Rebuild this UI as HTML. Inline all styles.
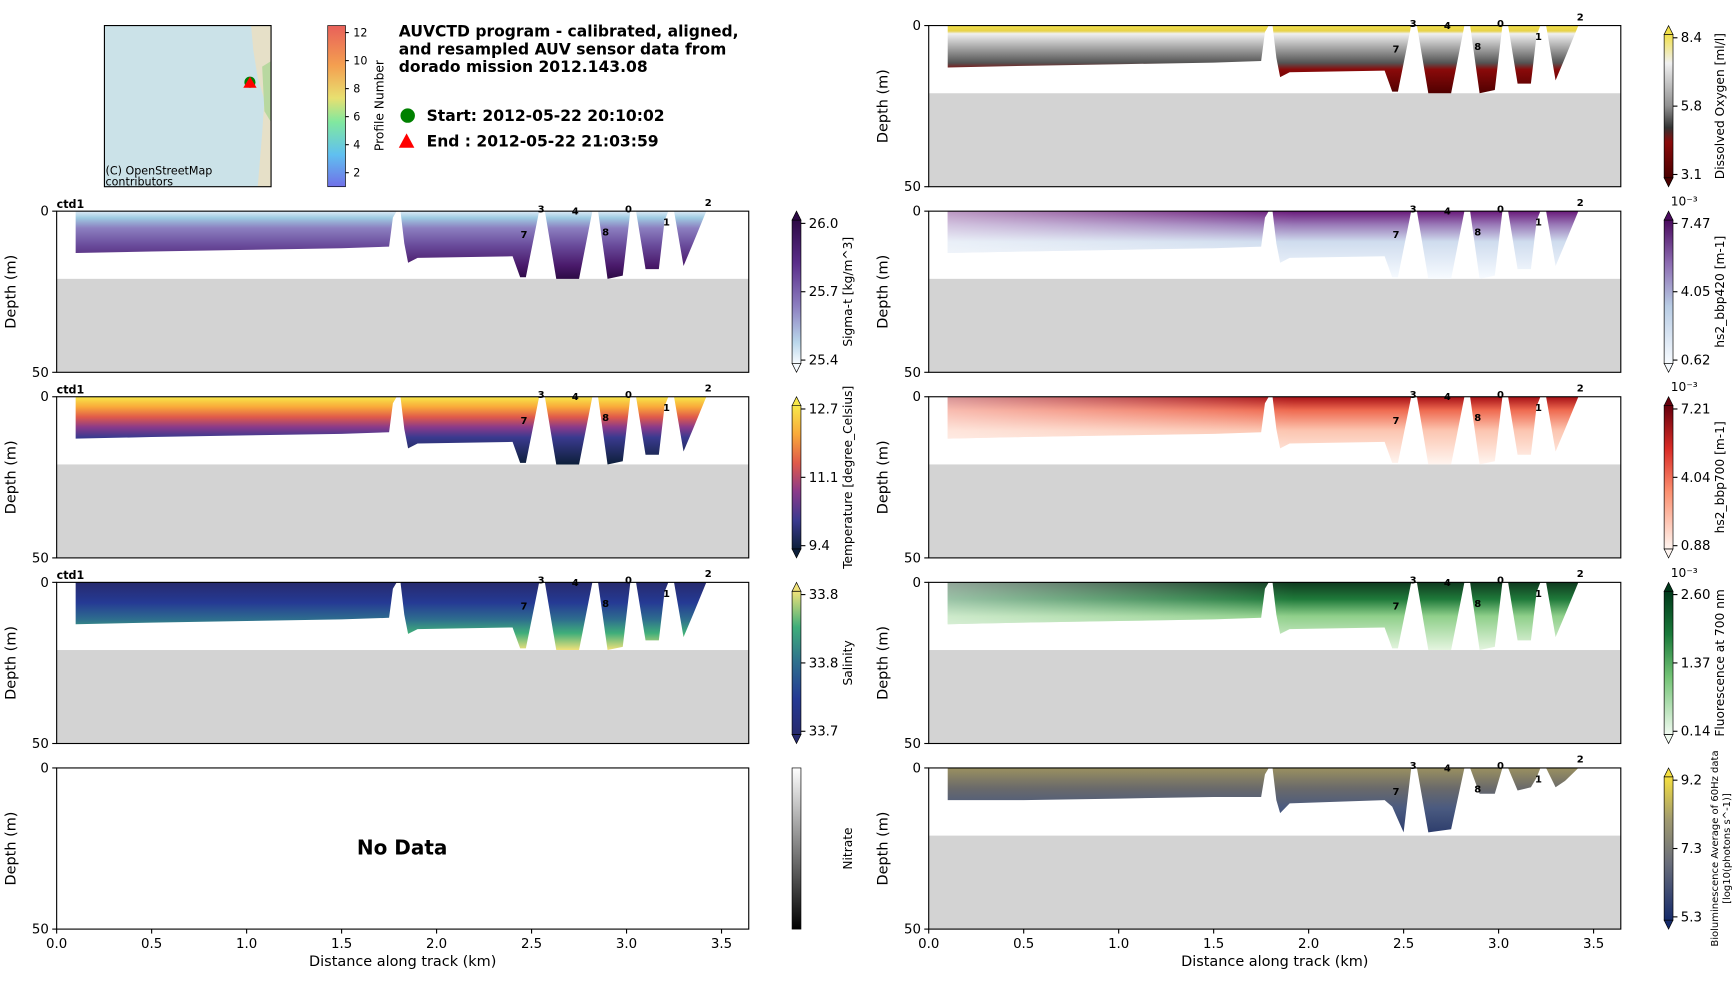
<!DOCTYPE html>
<html><head><meta charset="utf-8"><style>
body{margin:0;background:#fff;font-family:"Liberation Sans","DejaVu Sans",sans-serif}
svg text{font-family:"DejaVu Sans","Liberation Sans",sans-serif}
</style></head><body>
<svg id="fig" width="1733" height="978" viewBox="0 0 1560 880" preserveAspectRatio="none" xmlns="http://www.w3.org/2000/svg"></svg>
<script>
// ---- data ----
const envDist  = [0.1,0.1,0.5,1.0,1.5,1.75,1.77,1.79,1.81,1.83,1.85,1.9,2.4,2.44,2.47,2.54,2.57,2.63,2.75,2.82,2.85,2.9,2.98,3.02,3.05,3.1,3.17,3.2,3.22,3.25,3.3,3.35,3.42];
const envDepth = [0,13,12.5,12,11.5,11,2,0,0,10,16,14.5,14,20.5,20.5,0,0,21,21,0,0,21,20,0,0,18,18,3,0,0,17,10,0];
const bioDist  = [0.1,0.1,0.5,1.0,1.5,1.75,1.77,1.79,1.81,1.83,1.85,1.9,2.4,2.44,2.5,2.54,2.57,2.63,2.75,2.82,2.85,2.9,2.98,3.02,3.05,3.1,3.17,3.2,3.22,3.25,3.3,3.35,3.42];
const bioDepth = [0,10,10,9.5,9,9,2,0,0,10,14,11,10,12,20,0,0,20,19,0,0,8,8,0,0,7,6,3,0,0,6,4,0];
const profLabels = ["3","4","0","2","7","8","1"];
const profDist   = [2.55,2.73,3.01,3.43,2.46,2.89,3.21];
const profDepth  = [-1,-0.3,-1,-3,7,6.2,3.1];
const seafloorDepth = 21;
const xTicks = [0,0.5,1.0,1.5,2.0,2.5,3.0,3.5];
const cbTicks = {
 sigma:["26.0","25.7","25.4"], temp:["12.7","11.1","9.4"], sal:["33.8","33.8","33.7"],
 oxy:["8.4","5.8","3.1"], b420:["7.47","4.05","0.62"], b700:["7.21","4.04","0.88"],
 fluo:["2.60","1.37","0.14"], bio:["9.2","7.3","5.3"]};
const profTicks = [2,4,6,8,10,12];

const NS="http://www.w3.org/2000/svg";
const svg=document.getElementById('fig');
function el(tag,attrs,parent){const e=document.createElementNS(NS,tag);for(const k in attrs)e.setAttribute(k,attrs[k]);(parent||svg).appendChild(e);return e;}
function txt(s,attrs,parent){const t=el('text',attrs,parent);t.textContent=s;return t;}
const defs=el('defs',{});
// depth gradients (surface -> seafloor)
const grads={
 sigma:[[0,'#deebf7'],[0.1,'#9ecae1'],[0.25,'#8c7fc0'],[0.5,'#6a4c9c'],[0.8,'#4a1a6b'],[1,'#2d0a45']],
 temp:[[0,'#f7e84a'],[0.15,'#f9a93a'],[0.3,'#e05a4a'],[0.45,'#8a3a8a'],[0.6,'#3a3a8f'],[1,'#0d1f3a']],
 sal:[[0,'#262a6e'],[0.3,'#253a94'],[0.55,'#2e6e8e'],[0.75,'#3fae7a'],[1,'#f0e27a']],
 oxy:[[0,'#f1e04a'],[0.08,'#e8d24a'],[0.12,'#f0f0f0'],[0.3,'#b0b0b0'],[0.55,'#555'],[0.65,'#8a0a0a'],[1,'#500000']],
 b420:[[0,'#6a1a7a'],[0.2,'#9a7ab8'],[0.45,'#cfdcee'],[1,'#f7fbff']],
 b700:[[0,'#a50f15'],[0.2,'#ef6a50'],[0.5,'#fcc5b0'],[1,'#fff5f0']],
 fluo:[[0,'#0f3a1f'],[0.25,'#1f7a3a'],[0.5,'#8fcf8a'],[1,'#e5f5e0']],
 bio:[[0,'#9a9060'],[0.3,'#6a6a6a'],[0.6,'#4a5a80'],[1,'#2a3a6a']]
};
// colorbar gradients (top = max value)
const cbGrads={
 sigma:[[0,'#2d0a45'],[0.3,'#5a2d8a'],[0.6,'#8c7fc0'],[0.85,'#b9d6ea'],[1,'#f7fbff']],
 temp:[[0,'#f7e84a'],[0.2,'#f9a93a'],[0.4,'#e05a4a'],[0.6,'#8a3a8a'],[0.8,'#3a3a8f'],[1,'#0d1f3a']],
 sal:[[0,'#f0e27a'],[0.25,'#3fae7a'],[0.5,'#2e6e8e'],[0.75,'#253a94'],[1,'#262a6e']],
 oxy:[[0,'#f1e04a'],[0.2,'#f0f0f0'],[0.5,'#909090'],[0.65,'#333'],[0.75,'#8a0a0a'],[1,'#4a0000']],
 b420:[[0,'#4a0a5e'],[0.3,'#8c6bb1'],[0.6,'#b8cce4'],[1,'#f7fbff']],
 b700:[[0,'#67000d'],[0.3,'#d92b26'],[0.6,'#fc9070'],[1,'#fff5f0']],
 fluo:[[0,'#00381a'],[0.3,'#1a7a3a'],[0.6,'#74c476'],[1,'#f0faf0']],
 bio:[[0,'#f5e040'],[0.3,'#a09a70'],[0.6,'#6a6e7a'],[1,'#152a6a']],
 nitrate:[[0,'#ffffff'],[1,'#000000']],
 prof:[[0,'#e8605a'],[0.25,'#f4a050'],[0.45,'#e8e070'],[0.6,'#80e8a0'],[0.8,'#60c0f0'],[1,'#7070e8']]
};
for(const k in cbGrads){
 const g=el('linearGradient',{id:'cb'+k,x1:0,y1:0,x2:0,y2:1},defs);
 cbGrads[k].forEach(s=>el('stop',{offset:s[0],'stop-color':s[1]},g));
}
const fade=el('linearGradient',{id:'fadeL',x1:0,y1:0,x2:1,y2:0},defs);
el('stop',{offset:0,'stop-color':'#fff','stop-opacity':0.55},fade);
el('stop',{offset:0.55,'stop-color':'#fff','stop-opacity':0},fade);
el('stop',{offset:1,'stop-color':'#fff','stop-opacity':0},fade);

const W=623,H=145;
function panel(x0,y0,key,name,dists,depths,xlab,fadeLeft){
 const g=el('g',{});
 
 
 const sx=d=>x0+d*171, sy=m=>y0+m*H/50;
 if(key){
  el('rect',{x:x0,y:sy(seafloorDepth),width:W,height:y0+H-sy(seafloorDepth),fill:'#d3d3d3'},g);
  const gid='gp'+name;
  const gr=el('linearGradient',{id:gid,gradientUnits:'userSpaceOnUse',x1:0,y1:y0,x2:0,y2:sy(seafloorDepth)},defs);
  grads[key].forEach(s=>el('stop',{offset:s[0],'stop-color':s[1]},gr));
  let pts=dists.map((d,i)=>sx(d)+','+sy(depths[i])).join(' ');
  const p=el('polygon',{points:pts,fill:'url(#'+gid+')'},g);
  
  
  if(fadeLeft) el('polygon',{points:pts,fill:'url(#fadeL)'},g);
  profLabels.forEach((l,i)=>{const t=txt(l,{x:sx(profDist[i]),y:sy(profDepth[i])+4,'font-size':9,'font-weight':'bold','text-anchor':'middle'},g);
   });
 }
 el('rect',{x:x0,y:y0,width:W,height:H,fill:'none',stroke:'#000','stroke-width':1},g);
 [0,50].forEach(v=>{el('line',{x1:x0-4,x2:x0,y1:sy(v),y2:sy(v),stroke:'#000'},g);
  txt(String(v),{x:x0-7,y:sy(v)+4,'font-size':12,'text-anchor':'end'},g);});
 const yl=txt('Depth (m)',{x:0,y:0,'font-size':13,'text-anchor':'middle',transform:`translate(${x0-37},${y0+H/2}) rotate(-90)`},g);
 
 if(xlab){
  xTicks.forEach(v=>{el('line',{x1:sx(v),x2:sx(v),y1:y0+H,y2:y0+H+4,stroke:'#000'},g);
   txt(v.toFixed(1),{x:sx(v),y:y0+H+17,'font-size':12,'text-anchor':'middle'},g);});
  const xt=txt('Distance along track (km)',{x:x0+W/2,y:y0+H+33,'font-size':13,'text-anchor':'middle'},g);
  
 }
 return g;
}
function colorbar(x,y0,key,ticks,label,arrows,exp,lsize){
 const g=el('g',{});
 
 
 const top=y0+(arrows?8:0),bot=y0+H-(arrows?8:0);
 el('rect',{x:x,y:top,width:8,height:bot-top,fill:'url(#cb'+key+')',stroke:'#000','stroke-width':0.6},g);
 if(arrows){
  const st=cbGrads[key];
  el('polygon',{points:`${x},${top} ${x+8},${top} ${x+4},${y0}`,fill:st[0][1],stroke:'#000','stroke-width':0.6},g);
  el('polygon',{points:`${x},${bot} ${x+8},${bot} ${x+4},${y0+H}`,fill:st[st.length-1][1],stroke:'#000','stroke-width':0.6},g);
 }
 if(ticks){
  const ys=[top+3,(top+bot)/2,bot-3];
  ticks.forEach((t,i)=>{el('line',{x1:x+8,x2:x+12,y1:ys[i],y2:ys[i],stroke:'#000'},g);
   txt(t,{x:x+15,y:ys[i]+4,'font-size':12},g);});
 }
 if(exp) txt('10\u207B\u00B3',{x:x+6,y:y0-5,'font-size':11},g);
 const lx=x+54;
 String(label).split('\n').forEach((ln,i,a)=>{
  txt(ln,{x:0,y:0,'font-size':lsize||11,'text-anchor':'middle',transform:`translate(${lx+(i-(a.length-1)/2)*11},${y0+H/2}) rotate(-90)`},g);
 });
 return g;
}
const LX=51,RX=836;
const rowsL=[190,357,524,691], rowsR=[23,190,357,524,691];
panel(LX,rowsL[0],'sigma','sigma-t',envDist,envDepth,false,false);
panel(LX,rowsL[1],'temp','temperature',envDist,envDepth,false,false);
panel(LX,rowsL[2],'sal','salinity',envDist,envDepth,false,false);
panel(LX,rowsL[3],null,'nitrate',envDist,envDepth,true,false);
[0,1,2].forEach(i=>txt('ctd1',{x:LX,y:rowsL[i]-3,'font-size':10,'font-weight':'bold'}));
const nd=txt('No Data',{x:362,y:769,'font-size':18,'font-weight':'bold','text-anchor':'middle'});

colorbar(713,rowsL[0],'sigma',cbTicks.sigma,'Sigma-t [kg/m^3]',true);
colorbar(713,rowsL[1],'temp',cbTicks.temp,'Temperature [degree_Celsius]',true);
colorbar(713,rowsL[2],'sal',cbTicks.sal,'Salinity',true);
colorbar(713,rowsL[3],'nitrate',null,'Nitrate',false);
panel(RX,rowsR[0],'oxy','oxygen',envDist,envDepth,false,false);
panel(RX,rowsR[1],'b420','bbp420',envDist,envDepth,false,true);
panel(RX,rowsR[2],'b700','bbp700',envDist,envDepth,false,true);
panel(RX,rowsR[3],'fluo','fluorescence',envDist,envDepth,false,true);
panel(RX,rowsR[4],'bio','bioluminescence',bioDist,bioDepth,true,false);
colorbar(1498,rowsR[0],'oxy',cbTicks.oxy,'Dissolved Oxygen [ml/l]',true);
colorbar(1498,rowsR[1],'b420',cbTicks.b420,'hs2_bbp420 [m-1]',true,true);
colorbar(1498,rowsR[2],'b700',cbTicks.b700,'hs2_bbp700 [m-1]',true,true);
colorbar(1498,rowsR[3],'fluo',cbTicks.fluo,'Fluorescence at 700 nm',true,true);
colorbar(1498,rowsR[4],'bio',cbTicks.bio,'Bioluminescence Average of 60Hz data\n[log10(photons s^-1)]',true,false,9);

// map
const mg=el('g',{});
el('rect',{x:94,y:23,width:150,height:145,fill:'#cbe2e8'},mg);
el('polygon',{points:'226,23 244,23 244,168 232,168 236,120 238,90 232,70 228,45',fill:'#e6e0c8'},mg);
el('polygon',{points:'236,60 244,55 244,110 238,100',fill:'#b8d8a0'},mg);
el('rect',{x:94,y:23,width:150,height:145,fill:'none',stroke:'#000'},mg);
el('circle',{cx:225,cy:74,r:5,fill:'green'},mg);
el('polygon',{points:'225,69 231,79 219,79',fill:'red'},mg);
txt('(C) OpenStreetMap',{x:95,y:157,'font-size':10},mg);
txt('contributors',{x:95,y:167,'font-size':10},mg);
// profile colorbar
const pg=el('g',{});
el('rect',{x:295,y:23,width:16,height:145,fill:'url(#cbprof)',stroke:'#000','stroke-width':0.6},pg);
profTicks.forEach(v=>{const y=168-(v-1)/11.5*145;el('line',{x1:311,x2:314,y1:y,y2:y,stroke:'#000'},pg);
 txt(String(v),{x:318,y:y+3.5,'font-size':10},pg);});
txt('Profile Number',{x:0,y:0,'font-size':11,'text-anchor':'middle',transform:'translate(345,95) rotate(-90)'},pg);
// title
const tg=el('g',{});
['AUVCTD program - calibrated, aligned,','and resampled AUV sensor data from','dorado mission 2012.143.08'].forEach((l,i)=>
 txt(l,{x:359,y:33+i*16,'font-size':14,'font-weight':'bold'},tg));
el('circle',{cx:367,cy:104,r:6.5,fill:'green'},tg);
txt('Start: 2012-05-22 20:10:02',{x:384,y:109,'font-size':14,'font-weight':'bold'},tg);
el('polygon',{points:'366,120 373,133 359,133',fill:'red'},tg);
txt('End  : 2012-05-22 21:03:59',{x:384,y:132,'font-size':14,'font-weight':'bold'},tg);
</script>
</body></html>
